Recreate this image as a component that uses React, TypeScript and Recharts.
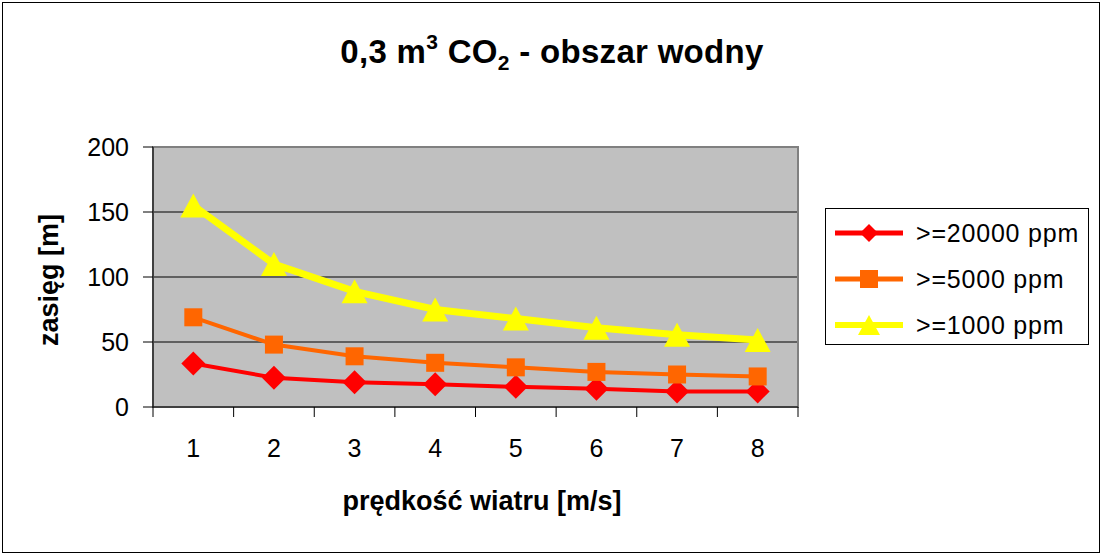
import React from "react";
import {
  LineChart,
  Line,
  XAxis,
  YAxis,
  CartesianGrid,
  ReferenceArea,
  Legend,
} from "recharts";

// wind speed [m/s]
const speeds = [1, 2, 3, 4, 5, 6, 7, 8];
// range [m] for each concentration threshold
const range20000 = [33.5, 22.5, 19, 17.5, 15.5, 14, 12, 12];
const range5000 = [69, 48, 39, 34, 30.5, 27, 25, 23.5];
const range1000 = [155, 110, 89, 75, 68, 61, 55.5, 51.5];
const yTicks = [0, 50, 100, 150, 200];
const xTicks = [0.5, 1, 1.5, 2, 2.5, 3, 3.5, 4, 4.5, 5, 5.5, 6, 6.5, 7, 7.5, 8, 8.5];

const data = speeds.map((s, i) => ({
  speed: s,
  r20000: range20000[i],
  r5000: range5000[i],
  r1000: range1000[i],
}));

const FONT = "Arial, 'Liberation Sans', sans-serif";

const Diamond = (props: any) => {
  const { cx, cy, fill, size = 12 } = props;
  if (cx == null || cy == null) return null;
  return (
    <polygon
      points={`${cx},${cy - size} ${cx + size},${cy} ${cx},${cy + size} ${cx - size},${cy}`}
      fill={fill}
    />
  );
};

const Square = (props: any) => {
  const { cx, cy, fill, size = 9 } = props;
  if (cx == null || cy == null) return null;
  return <rect x={cx - size} y={cy - size} width={size * 2} height={size * 2} fill={fill} />;
};

const Triangle = (props: any) => {
  const { cx, cy, fill, size = 12 } = props;
  if (cx == null || cy == null) return null;
  return (
    <polygon
      points={`${cx},${cy - size} ${cx + size + 1},${cy + size} ${cx - size - 1},${cy + size}`}
      fill={fill}
    />
  );
};

const XTick = (props: any) => {
  const { x, y, payload } = props;
  const v = payload.value;
  if (Number.isInteger(v)) {
    return (
      <text x={x} y={y + 50} textAnchor="middle" fontSize={25} fontFamily={FONT} fill="#000">
        {v}
      </text>
    );
  }
  return <line x1={x} y1={y} x2={x} y2={y + 10} stroke="#000" strokeWidth={1} />;
};

const series = [
  { key: "r20000", name: ">=20000 ppm", color: "#FF0000", width: 4, marker: Diamond, legendSize: 9 },
  { key: "r5000", name: ">=5000 ppm", color: "#FF6600", width: 4, marker: Square, legendSize: 9 },
  { key: "r1000", name: ">=1000 ppm", color: "#FFFF00", width: 7, marker: Triangle, legendSize: 10 },
];

const LegendBox = () => (
  <div
    style={{
      border: "1px solid #000",
      background: "#fff",
      width: 264,
      height: 137,
      boxSizing: "border-box",
      paddingTop: 1,
    }}
  >
    {series.map((s) => {
      const M = s.marker;
      return (
        <div key={s.key} style={{ display: "flex", alignItems: "center", height: 46 }}>
          <svg width={84} height={30} style={{ marginLeft: 6 }}>
            <line x1={3} y1={15} x2={71} y2={15} stroke={s.color} strokeWidth={s.width === 7 ? 6 : 5} />
            <M cx={37} cy={15} fill={s.color} size={s.legendSize} />
          </svg>
          <span style={{ fontFamily: FONT, fontSize: 25, letterSpacing: 0.8, color: "#000" }}>{s.name}</span>
        </div>
      );
    })}
  </div>
);

const App: React.FC = () => {
  return (
    <div style={{ position: "absolute", left: 0, top: 0, width: 1102, height: 555, background: "#fff" }}>
      <div
        style={{
          position: "absolute",
          left: 2,
          top: 2,
          width: 1098,
          height: 551,
          border: "1px solid #000",
          boxSizing: "border-box",
        }}
      />
      <svg width={1102} height={90} style={{ position: "absolute", left: 0, top: 0 }}>
        <text x={552} y={63} textAnchor="middle" fontFamily={FONT} fontWeight="bold" fontSize={33} fill="#000" letterSpacing={0.3}>
          0,3 m
          <tspan fontSize={21} dy={-14}>3</tspan>
          <tspan dy={14}> CO</tspan>
          <tspan fontSize={21} dy={7}>2</tspan>
          <tspan dy={-7}> - obszar wodny</tspan>
        </text>
      </svg>
      <LineChart
        width={1102}
        height={555}
        data={data}
        margin={{ top: 147, right: 304, left: 0, bottom: 0 }}
        style={{ position: "absolute", left: 0, top: 0 }}
      >
        <CartesianGrid
          fill="#C0C0C0"
          vertical={false}
          horizontalValues={[50, 100, 150]}
          stroke="#000"
          strokeOpacity={1}
        />
        <ReferenceArea
          x1={0.5}
          x2={8.5}
          y1={0}
          y2={200}
          fill="none"
          stroke="#808080"
          strokeWidth={2}
          ifOverflow="visible"
        />
        <XAxis
          dataKey="speed"
          type="number"
          domain={[0.5, 8.5]}
          ticks={xTicks}
          interval={0}
          height={148}
          tick={<XTick />}
          tickLine={false}
          tickSize={0}
          tickMargin={0}
          axisLine={{ stroke: "#000", strokeWidth: 1 }}
          label={{
            content: () => (
              <text
                x={482}
                y={510}
                textAnchor="middle"
                fontFamily={FONT}
                fontWeight="bold"
                fontSize={27}
                fill="#000"
              >
                prędkość wiatru [m/s]
              </text>
            ),
          }}
        />
        <YAxis
          type="number"
          domain={[0, 200]}
          ticks={yTicks}
          interval={0}
          width={153}
          tickSize={10}
          tickMargin={14}
          tick={{ fontSize: 25, fontFamily: FONT, fill: "#000" }}
          tickLine={{ stroke: "#000" }}
          axisLine={{ stroke: "#000", strokeWidth: 1 }}
          label={{
            content: () => (
              <text
                x={58}
                y={280}
                transform="rotate(-90 58 280)"
                textAnchor="middle"
                fontFamily={FONT}
                fontWeight="bold"
                fontSize={27}
                fill="#000"
              >
                zasięg [m]
              </text>
            ),
          }}
        />
        <Legend
          layout="vertical"
          align="center"
          verticalAlign="middle"
          content={<LegendBox />}
          wrapperStyle={{ left: 825, top: 208, width: 266, height: 139 }}
        />
        {series.map((s) => {
          const M = s.marker;
          return (
            <Line
              key={s.key}
              dataKey={s.key}
              name={s.name}
              type="linear"
              stroke={s.color}
              strokeWidth={s.width}
              dot={<M fill={s.color} />}
              activeDot={false}
              isAnimationActive={false}
            />
          );
        })}
      </LineChart>
    </div>
  );
};

export default App;
